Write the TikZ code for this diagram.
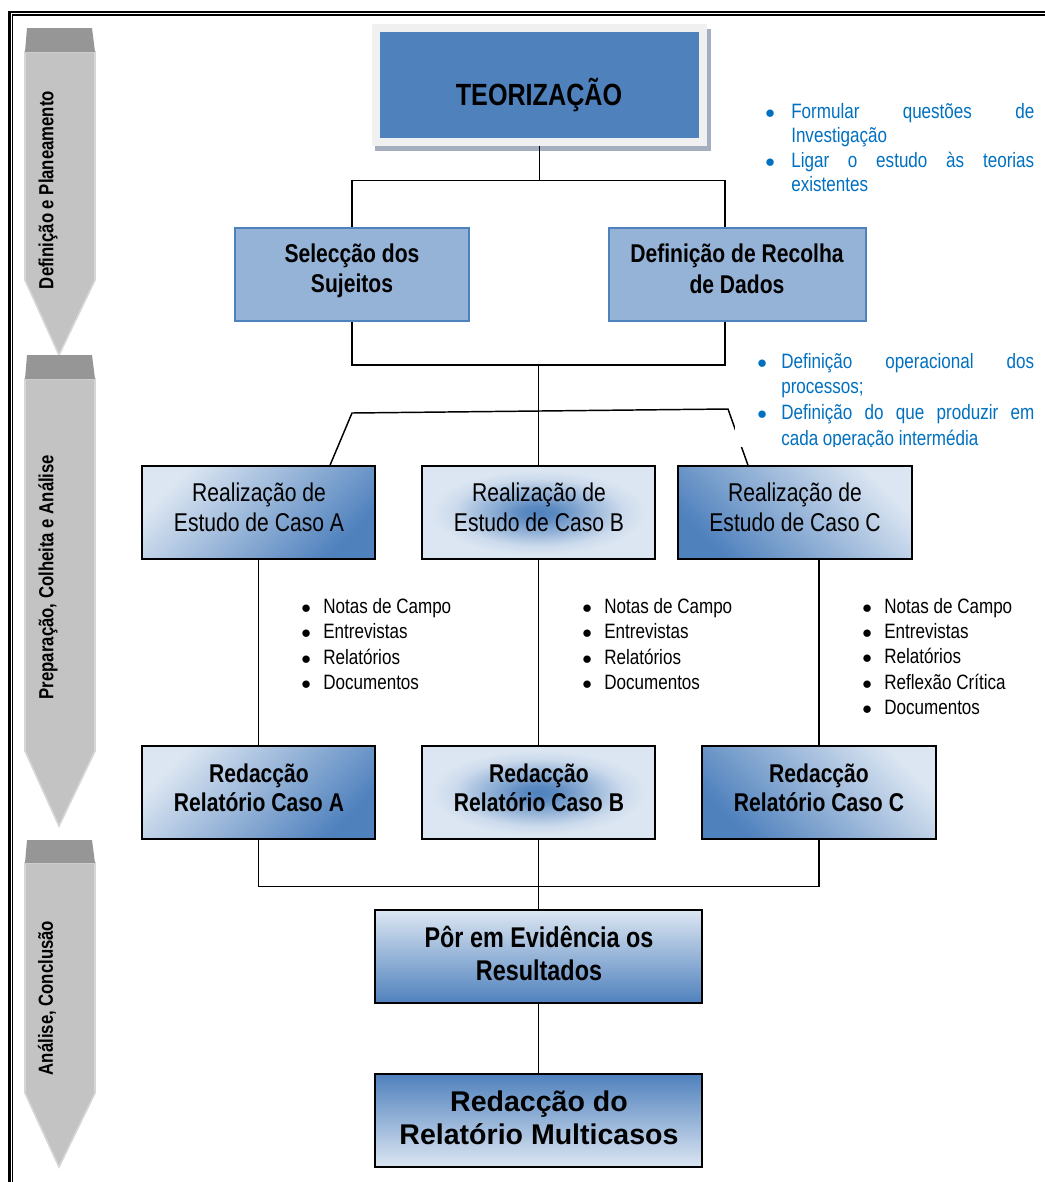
\documentclass[tikz,border=0pt]{standalone}
\usepackage{fontspec}
\setmainfont{Liberation Sans}
\newfontfamily\narrowfont[FakeStretch=0.82]{Liberation Sans}
\usetikzlibrary{calc}

\definecolor{ltblue}{HTML}{DCE6F2}
\definecolor{dkblue}{HTML}{4F81BD}
\definecolor{midblue}{HTML}{95B3D7}
\definecolor{txtblue}{HTML}{0070C0}
\definecolor{capgray}{HTML}{969696}
\definecolor{bodygray}{HTML}{C3C3C3}
\definecolor{rimgray}{HTML}{D6D6D6}
\definecolor{framegray}{HTML}{F0F0F0}
\definecolor{shadowgray}{HTML}{A4AEBE}
\colorlet{glowA}{dkblue!90!ltblue}
\colorlet{glowB}{dkblue!50!ltblue}
\colorlet{glowC}{dkblue!12!ltblue}

% dark centre fading to pale edges
\pgfdeclareradialshading{centerglow}{\pgfpoint{0bp}{0bp}}{%
  color(0bp)=(dkblue); color(4bp)=(glowA); color(11bp)=(glowB);
  color(18bp)=(glowC); color(23bp)=(ltblue); color(50bp)=(ltblue)}

% bullets for the lists
\newcommand{\blt}{\makebox[16.5pt][l]{$\bullet$}}
\newcommand{\bltA}{\makebox[19.5pt][l]{$\bullet$}}
\newcommand{\bltB}{\makebox[18pt][l]{$\bullet$}}

% grey phase arrow: cap top, body top, body bottom, tip
\newcommand{\phasearrow}[4]{%
  \filldraw[fill=bodygray, draw=rimgray, line width=1.2pt]
    (25,#2) -- (95,#2) -- (95,#3) -- (59,#4) -- (25,#3) -- cycle;
  \fill[capgray] (27,#1) -- (92,#1) -- (95,#2) -- (25,#2) -- cycle;}

\tikzset{
  conn/.style={draw=black, line width=1.1pt},
  plainbox/.style={rectangle, inner sep=0pt, draw=black, line width=1.1pt,
    minimum height=69.75pt},
  topbox/.style={rectangle, inner sep=0pt, fill=midblue, draw=dkblue,
    line width=1.2pt, minimum height=69.75pt},
  shadeTL/.style={plainbox, top color=ltblue, bottom color=dkblue, shading angle=45},
  shadeTR/.style={plainbox, top color=ltblue, bottom color=dkblue, shading angle=-45},
  shadeMid/.style={plainbox, shade, shading=centerglow},
  shadeDown/.style={plainbox, top color=ltblue, bottom color=dkblue},
  shadeUp/.style={plainbox, top color=dkblue, bottom color=ltblue},
  boxtext/.style={inner sep=0pt, align=center,
    font=\narrowfont\fontsize{19.3pt}{22.5pt}\selectfont},
  boxbold/.style={inner sep=0pt, align=center,
    font=\narrowfont\bfseries\fontsize{19.3pt}{22.5pt}\selectfont},
  phaselabel/.style={rotate=90, inner sep=0pt,
    font=\narrowfont\bfseries\fontsize{15.3pt}{18pt}\selectfont},
  bulletlist/.style={inner sep=0pt, align=left, anchor=west,
    font=\narrowfont\fontsize{15.6pt}{19pt}\selectfont},
}

\begin{document}
\begin{tikzpicture}[x=0.75pt, y=-0.75pt]
\useasboundingbox (0,0) rectangle (1045,1182);
\fill[white] (0,0) rectangle (1045,1182);

% page frame (double rule)
\draw[line width=1.9pt] (9.5,1182) -- (9.5,12) -- (1045,12);
\draw[line width=0.9pt] (12.8,1182) -- (12.8,15) -- (1045,15);

% phase arrows down the left margin
\phasearrow{28}{52}{280}{355}
\phasearrow{355}{379}{751}{826}
\phasearrow{840}{863}{1093}{1167}
\node[phaselabel] (ph1) at (48,190) {Definição e Planeamento};
\node[phaselabel] (ph2) at (48,577) {Preparação, Colheita e Análise};
\node[phaselabel] (ph3) at (47,998) {Análise, Conclusão};

% TEORIZAÇÃO block
\fill[shadowgray] (375,29) rectangle (710.5,151);
\node[fill=framegray, minimum width=251.25pt, minimum height=91.5pt, inner sep=0pt]
  (teoframe) at (539.5,85) {};
\node[fill=dkblue, minimum width=239.25pt, minimum height=79.5pt, inner sep=0pt]
  (teo) at (539.5,85) {};
\node[inner sep=0pt, font=\narrowfont\bfseries\fontsize{23pt}{27pt}\selectfont]
  (teotxt) at (539,95) {TEORIZAÇÃO};

% planning boxes
\node[topbox, minimum width=175.5pt] (selec) at (352,274.5) {};
\node[topbox, minimum width=192.75pt] (defin) at (737.5,274.5) {};
\node[boxbold, font=\narrowfont\bfseries\fontsize{19.3pt}{23pt}\selectfont]
  (seleclbl) at (352,271) {Selecção dos\\Sujeitos};
\node[boxbold, font=\narrowfont\bfseries\fontsize{19.3pt}{23pt}\selectfont]
  (definlbl) at (737,269) {Definição de Recolha\\de Dados};

\draw[conn] (teoframe.south) -- ++(0,34) coordinate (tj);
\draw[conn] (selec.north) |- (tj) -| ($(defin.north)+(-12.5,0)$);
\coordinate (sj) at ($(selec.south)+(0,43)$);
\draw[conn] (selec.south) -- (sj) -| ($(defin.south)+(-12.5,0)$);

% case study boxes
\node[shadeTL, minimum width=174.75pt] (caseA) at (258.5,512.5) {};
\node[shadeMid, minimum width=174.75pt] (caseB) at (538.5,512.5) {};
\node[shadeTR, minimum width=175.5pt] (caseC) at (795,512.5) {};
\node[boxtext] (caseAlbl) at (259,507) {Realização de\\Estudo de Caso A};
\node[boxtext] (caseBlbl) at (539,507) {Realização de\\Estudo de Caso B};
\node[boxtext] (caseClbl) at (795,507) {Realização de\\Estudo de Caso C};

\draw[conn] (caseB.north) -- (caseB.north |- sj);
\coordinate (kl) at (352,413);
\coordinate (kr) at (728,409);
\draw[conn] ($(caseA.north)+(71.5,0)$) -- (kl) -- (kr) -- ($(caseC.north)+(-47,0)$);

% notes on the aims of each phase
\node[bulletlist, text=txtblue, font=\narrowfont\fontsize{15.6pt}{18.25pt}\selectfont]
  (aims1) at (765,147.5) {%
  \bltA\makebox[182.25pt][s]{Formular questões de}\\
  \hspace*{19.5pt}Investigação\\
  \bltA\makebox[182.25pt][s]{Ligar o estudo às teorias}\\
  \hspace*{19.5pt}existentes};
\begin{scope}
  \clip (735,343) rectangle (1045,446.5);
  \fill[white] (735,343) rectangle (1045,446.5);
  \node[bulletlist, text=txtblue, font=\narrowfont\fontsize{15.6pt}{19.3pt}\selectfont]
    (aims2) at (757,401.5) {%
    \bltB\makebox[189.75pt][s]{Definição operacional dos}\\
    \hspace*{18pt}processos;\\
    \bltB\makebox[189.75pt][s]{Definição do que produzir em}\\
    \hspace*{18pt}cada operação intermédia};
\end{scope}

% data sources per case
\node[bulletlist] (srcA) at (301,644) {\blt Notas de Campo\\\blt Entrevistas\\\blt Relatórios\\\blt Documentos};
\node[bulletlist] (srcB) at (582,644) {\blt Notas de Campo\\\blt Entrevistas\\\blt Relatórios\\\blt Documentos};
\node[bulletlist] (srcC) at (862,656.5) {\blt Notas de Campo\\\blt Entrevistas\\\blt Relatórios\\\blt Reflexão Crítica\\\blt Documentos};

% case reports
\node[shadeTL, minimum width=174.75pt] (redA) at (258.5,792.5) {};
\node[shadeMid, minimum width=174.75pt] (redB) at (538.5,792.5) {};
\node[shadeTR, minimum width=175.5pt] (redC) at (819,792.5) {};
\node[boxbold, font=\narrowfont\bfseries\fontsize{19.3pt}{21.75pt}\selectfont]
  (redAlbl) at (259,787.5) {Redacção\\Relatório Caso A};
\node[boxbold, font=\narrowfont\bfseries\fontsize{19.3pt}{21.75pt}\selectfont]
  (redBlbl) at (539,787.5) {Redacção\\Relatório Caso B};
\node[boxbold, font=\narrowfont\bfseries\fontsize{19.3pt}{21.75pt}\selectfont]
  (redClbl) at (819,787.5) {Redacção\\Relatório Caso C};

\draw[conn] (caseA.south) -- (redA.north);
\draw[conn] (caseB.south) -- (redB.north);
\draw[conn] (redC.north) -- (redC.north |- caseC.south);

% results and final report
\node[shadeDown, minimum width=245.25pt] (res) at (538.5,956.5) {};
\node[shadeUp, minimum width=245.25pt] (final) at (538.5,1120.5) {};
\node[boxbold, font=\narrowfont\bfseries\fontsize{21.4pt}{24.75pt}\selectfont]
  (reslbl) at (539,953.5) {Pôr em Evidência os\\Resultados};
\node[boxbold, font=\bfseries\fontsize{21.4pt}{24.75pt}\selectfont]
  (finallbl) at (539,1117.5) {Redacção do\\Relatório Multicasos};

\draw[conn] (redA.south) -- ++(0,47) coordinate (bj) -| (redC.south);
\draw[conn] (redB.south) -- (res.north);
\draw[conn] (res.south) -- (final.north);
\end{tikzpicture}
\end{document}
